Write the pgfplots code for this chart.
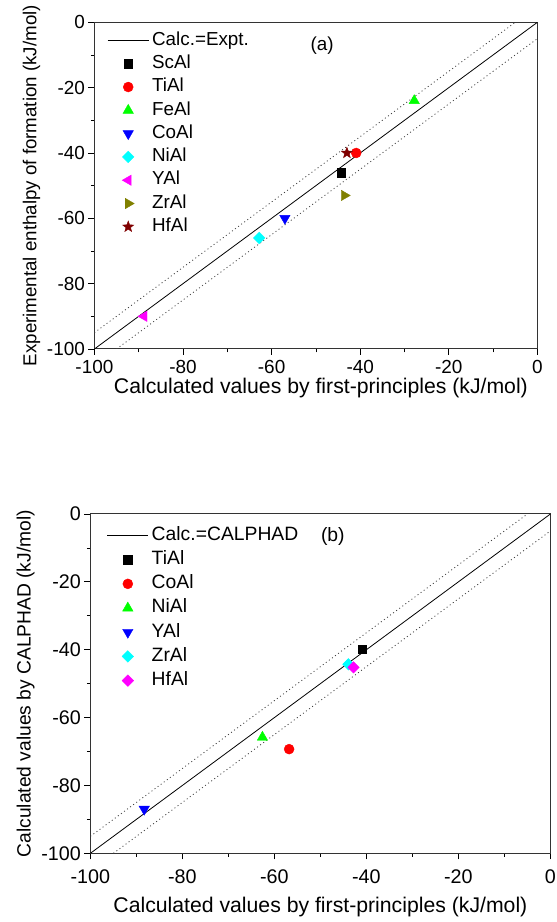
\documentclass[border=0pt]{standalone}
\usepackage{fontspec}
\setmainfont{Liberation Sans}
\usepackage{pgfplots}
\pgfplotsset{compat=1.18}
\definecolor{mygreen}{RGB}{0,255,0}
\definecolor{myolive}{RGB}{128,128,0}
\definecolor{mywine}{RGB}{128,0,0}
\definecolor{mycyan}{RGB}{0,255,255}
\definecolor{mymagenta}{RGB}{255,0,255}
\definecolor{myred}{RGB}{255,0,0}
\definecolor{myblue}{RGB}{0,0,255}
\pgfdeclareplotmark{fstar}{%
  \pgfpathmoveto{\pgfpointpolar{90}{\pgfplotmarksize}}%
  \pgfpathlineto{\pgfpointpolar{126}{0.42\pgfplotmarksize}}%
  \pgfpathlineto{\pgfpointpolar{162}{\pgfplotmarksize}}%
  \pgfpathlineto{\pgfpointpolar{198}{0.42\pgfplotmarksize}}%
  \pgfpathlineto{\pgfpointpolar{234}{\pgfplotmarksize}}%
  \pgfpathlineto{\pgfpointpolar{270}{0.42\pgfplotmarksize}}%
  \pgfpathlineto{\pgfpointpolar{306}{\pgfplotmarksize}}%
  \pgfpathlineto{\pgfpointpolar{342}{0.42\pgfplotmarksize}}%
  \pgfpathlineto{\pgfpointpolar{18}{\pgfplotmarksize}}%
  \pgfpathlineto{\pgfpointpolar{54}{0.42\pgfplotmarksize}}%
  \pgfpathclose\pgfusepathqfillstroke}
\pgfplotsset{
  myaxis/.style={
    scale only axis,
    xmin=-100, xmax=0, ymin=-100, ymax=0,
    xtick={-100,-80,...,0}, ytick={-100,-80,...,0},
    minor tick num=1,
    tick align=outside, xtick pos=left, ytick pos=left,
    major tick length=6bp, minor tick length=3.5bp,
    every tick/.style={black, line width=0.8bp},
    axis line style={line width=1bp, black!80},
    /pgf/number format/assume math mode=true,
    legend cell align=left,
    legend style={draw=none, fill=none,
      nodes={inner xsep=3bp, inner ysep=0pt, text height=13.5bp, text depth=4bp}},
    legend image code/.code={\draw[mark repeat=2,mark phase=2,##1] plot coordinates {(0bp,0bp)(20.5bp,0bp)(41bp,0bp)};},
  },
  dotl/.style={forget plot, black!75, line width=0.8bp, dash pattern=on 1bp off 2.8bp},
  diag/.style={black, line width=0.8bp},
}
\begin{document}
\begin{tikzpicture}
\useasboundingbox (0,0) rectangle (557bp,922bp);
% ---------- panel (a)
\begin{axis}[myaxis, at={(94.4bp,573bp)}, anchor=south west,
  width=443bp, height=326.7bp,
  tick label style={font=\fontsize{19}{19}\selectfont},
  xticklabel style={yshift=-2bp},
  xlabel style={font=\fontsize{21.3}{21.3}\selectfont, xshift=5bp, yshift=3bp},
  ylabel style={font=\fontsize{18.8}{18.8}\selectfont},
  xlabel={Calculated values by first-principles (kJ/mol)},
  ylabel={Experimental enthalpy of formation (kJ/mol)},
  legend style={at={(0.022,0.978)}, anchor=north west, row sep=5.8bp,
    font=\fontsize{18.9}{18.9}\selectfont}]
\addplot[dotl] coordinates {(-100,-95) (-5,0)};
\addplot[dotl] coordinates {(-95,-100) (0,-5)};
\addplot[diag] coordinates {(-100,-100) (0,0)};
\addlegendentry{Calc.=Expt.}
\addplot[only marks, mark=square*, mark size=4.2bp, black] coordinates {(-44.3,-46)};
\addlegendentry{ScAl}
\addplot[only marks, mark=*, mark size=5bp, myred] coordinates {(-40.9,-40)};
\addlegendentry{TiAl}
\addplot[only marks, mark=triangle*, mark size=6bp, mygreen] coordinates {(-27.8,-24)};
\addlegendentry{FeAl}
\addplot[only marks, mark=triangle*, mark size=6bp, myblue, mark options={rotate=180}] coordinates {(-57,-60)};
\addlegendentry{CoAl}
\addplot[only marks, mark=square*, mark size=4.1bp, mycyan, mark options={rotate=45}] coordinates {(-62.8,-66)};
\addlegendentry{NiAl}
\addplot[only marks, mark=triangle*, mark size=6bp, mymagenta, mark options={rotate=90}] coordinates {(-88.8,-90)};
\addlegendentry{YAl}
\addplot[only marks, mark=triangle*, mark size=6bp, myolive, mark options={rotate=-90}] coordinates {(-43.6,-53)};
\addlegendentry{ZrAl}
\addplot[only marks, mark=fstar, mark size=5.8bp, mywine] coordinates {(-43,-40)};
\addlegendentry{HfAl}
\node[font=\fontsize{18.9}{18.9}\selectfont] at (axis cs:-48.6,-7) {(a)};
\end{axis}
% ---------- panel (b)
\begin{axis}[myaxis, at={(90.4bp,68.7bp)}, anchor=south west,
  width=460bp, height=339.3bp,
  tick label style={font=\fontsize{19.8}{19.8}\selectfont},
  xticklabel style={yshift=-7bp},
  xlabel style={font=\fontsize{21.3}{21.3}\selectfont, yshift=-6bp},
  ylabel style={font=\fontsize{19.3}{19.3}\selectfont},
  xlabel={Calculated values by first-principles (kJ/mol)},
  ylabel={Calculated values by CALPHAD (kJ/mol)},
  legend style={at={(0.029,0.969)}, anchor=north west, row sep=6.7bp,
    font=\fontsize{19.4}{19.4}\selectfont}]
\addplot[dotl] coordinates {(-100,-95) (-5,0)};
\addplot[dotl] coordinates {(-95,-100) (0,-5)};
\addplot[diag] coordinates {(-100,-100) (0,0)};
\addlegendentry{Calc.=CALPHAD}
\addplot[only marks, mark=square*, mark size=4.2bp, black] coordinates {(-40.9,-39.8)};
\addlegendentry{TiAl}
\addplot[only marks, mark=*, mark size=5bp, myred] coordinates {(-56.8,-69.3)};
\addlegendentry{CoAl}
\addplot[only marks, mark=triangle*, mark size=6bp, mygreen] coordinates {(-62.6,-65.8)};
\addlegendentry{NiAl}
\addplot[only marks, mark=triangle*, mark size=6bp, myblue, mark options={rotate=180}] coordinates {(-88.3,-87)};
\addlegendentry{YAl}
\addplot[only marks, mark=square*, mark size=4.1bp, mycyan, mark options={rotate=45}] coordinates {(-43.9,-44.3)};
\addlegendentry{ZrAl}
\addplot[only marks, mark=square*, mark size=4.1bp, mymagenta, mark options={rotate=45}] coordinates {(-42.8,-45.2)};
\addlegendentry{HfAl}
\node[font=\fontsize{19.4}{19.4}\selectfont] at (axis cs:-47.3,-6.5) {(b)};
\end{axis}
\end{tikzpicture}
\end{document}
